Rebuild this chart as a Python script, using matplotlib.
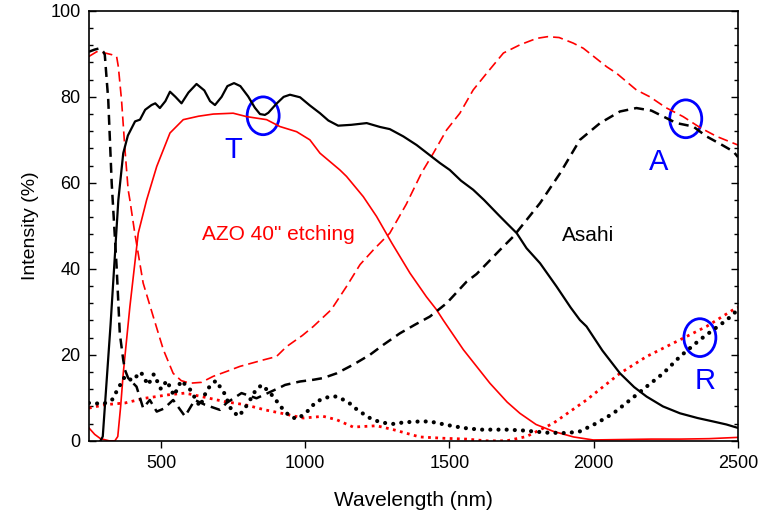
import numpy as np
import matplotlib.pyplot as plt
from matplotlib.patches import Ellipse
from matplotlib.ticker import MultipleLocator

plt.rcParams['font.family'] = ['Liberation Sans', 'DejaVu Sans']

# Asahi - transmission (black solid)
asahi_T_wl = [290, 298, 325, 352, 369, 385, 410, 427, 445, 467, 480, 496, 515, 531, 550, 571,
              595, 623, 650, 670, 687, 710, 730, 753, 775, 802, 825, 843, 860, 872, 900, 925,
              947, 982, 1016, 1051, 1080, 1114, 1160, 1213, 1259, 1293, 1340, 1386, 1440, 1467,
              1501, 1540, 1582, 1620, 1669, 1700, 1733, 1767, 1814, 1871, 1920, 1952, 1975,
              2030, 2091, 2140, 2183, 2240, 2299, 2360, 2414, 2460, 2500]
asahi_T = [0, 1, 27, 56, 66.9, 71, 74.3, 74.7, 77, 78.1, 78.5, 77.4, 79, 81.2, 80, 78.5,
           81, 83, 81.5, 79, 78.1, 80, 82.5, 83.2, 82.5, 80.1, 77.5, 76, 75.8, 76.3, 78.4, 80,
           80.5, 79.9, 78, 76.2, 74.5, 73.3, 73.5, 73.9, 73, 72.5, 70.8, 68.8, 66, 64.6,
           63, 60.5, 58.4, 56, 52.6, 50.5, 48.3, 44.8, 41.3, 35.9, 31, 28.1, 26.6,
           21, 15.7, 12.5, 10.3, 8, 6.4, 5.3, 4.5, 3.8, 3]

# Asahi - absorption (black dashed)
asahi_A_wl = [250, 270, 288, 300, 305, 317, 329, 346, 357, 369, 375, 386, 415, 438, 461, 485,
              510, 542, 583, 617, 652, 704, 727, 779, 831, 883, 918, 930, 982, 1028, 1062,
              1109, 1166, 1224, 1270, 1328, 1380, 1432, 1490, 1559, 1594, 1675, 1721, 1814,
              1883, 1952, 2022, 2091, 2148, 2200, 2230, 2287, 2345, 2391, 2440, 2484, 2500]
asahi_A = [90.5, 91, 91.3, 90.5, 89.8, 79.3, 59.9, 40.5, 25, 18.8, 16.5, 14.6, 12.6, 7.6, 9.5, 6.8,
           7.5, 9.5, 5.7, 9.5, 8.4, 7.2, 8.8, 11.1, 9.9, 11.5, 12.6, 13, 13.8, 14.2, 14.6,
           15.7, 17.7, 20, 22.3, 25, 27, 28.9, 32, 37, 38.8, 44.4, 47.5, 55.3,
           62.2, 70, 73.9, 76.6, 77.4, 76.8, 75.8, 73.9, 73.1, 70.8, 69, 67.3, 66]

# Asahi - reflection (black dotted)
asahi_R_wl = [250, 300, 330, 350, 375, 400, 430, 455, 475, 500, 520, 545, 570, 600, 635, 660,
              690, 720, 745, 770, 800, 830, 850, 880, 906, 924, 947, 970, 993, 1016, 1033,
              1057, 1086, 1109, 1137, 1161, 1180, 1224, 1253, 1280, 1311, 1340, 1397, 1432,
              1490, 1548, 1606, 1698, 1756, 1837, 1906, 1952, 2010, 2068, 2126, 2183, 2241,
              2299, 2368, 2414, 2461, 2500]
asahi_R = [8.8, 8.6, 9.5, 12, 15, 14, 16, 13, 15.5, 12, 14, 10.5, 14, 12, 8, 12,
           14, 11, 7, 5.7, 8.5, 12, 13, 11, 8.8, 7.2, 5.7, 5.1, 6, 7.4, 8.8,
           9.7, 10.3, 10.3, 9.4, 8.4, 7.2, 5.3, 4.5, 4.1, 3.9, 4.3, 4.5, 4.5,
           3.7, 3, 2.6, 2.6, 2.4, 1.9, 1.8, 2.2, 4.1, 6.4, 9.5, 12.6, 15.7,
           19.6, 23.5, 25.8, 28.1, 30.5]

# AZO 40" etching - transmission (red solid)
azo_T_wl = [250, 270, 290, 320, 340, 350, 360, 369, 392, 421, 450, 485, 531, 577, 630, 681,
            750, 797, 866, 912, 970, 1016, 1051, 1120, 1143, 1201, 1247, 1300, 1363, 1420,
            1455, 1478, 1548, 1640, 1700, 1744, 1800, 1860, 1930, 1998, 2100, 2200, 2300,
            2400, 2500]
azo_T = [3, 1.5, 0.5, 0, 0, 1, 8, 15.7, 31.2, 48.3, 56, 63.8, 71.6, 74.7, 75.5, 76,
         76.2, 75.4, 74.7, 73.1, 71.9, 70, 66.9, 63, 61.5, 56.8, 52.2, 46, 39, 33.5,
         30.5, 28.1, 21.2, 13.4, 9, 6.4, 3.8, 2.2, 0.9, 0.2, 0.3, 0.4, 0.4,
         0.5, 0.8]

# AZO 40" etching - absorption (red dashed)
azo_A_wl = [250, 277, 300, 330, 346, 352, 363, 375, 386, 392, 409, 438, 473, 508, 542, 570,
            600, 640, 681, 730, 773, 854, 900, 935, 990, 1028, 1090, 1143, 1190, 1236, 1293,
            1350, 1403, 1444, 1490, 1536, 1582, 1629, 1687, 1744, 1802, 1840, 1880, 1929,
            1964, 2045, 2079, 2148, 2195, 2250, 2310, 2370, 2426, 2500]
azo_A = [89.4, 90.5, 90.3, 89.8, 89.4, 87, 79.3, 67.7, 58.4, 56, 48.3, 36.7, 28.9, 21.2, 15.7, 14,
         13.4, 13.6, 15, 16.2, 17.3, 18.8, 19.6, 21.9, 24.5, 26.6, 30.5, 35.9, 41, 44.4, 48.3,
         55, 62.3, 66.9, 72.3, 76.2, 81.6, 85.5, 90.2, 92.1, 93.6, 94, 93.8, 92.5,
         91.3, 87, 85.5, 81.6, 80, 77.5, 75.4, 72.8, 70.8, 68.8]

# AZO 40" etching - reflection (red dotted)
azo_R_wl = [250, 305, 375, 444, 525, 583, 640, 722, 791, 860, 918, 993, 1062, 1109, 1166,
            1247, 1305, 1397, 1478, 1559, 1629, 1698, 1767, 1860, 1975, 2091, 2183, 2299,
            2391, 2484, 2500]
azo_R = [7.6, 8.4, 8.8, 9.9, 10.7, 11.1, 10.3, 9.1, 8.4, 7.2, 6.4, 5.3, 5.7, 4.9, 3.2,
         3.5, 2.6, 0.9, 0.6, 0.4, 0, 0, 1, 4.1, 9.5, 15.7, 19.6, 23.5,
         26.6, 30.5, 31]

# marked crossings (ellipses) and their labels
marks = [(854, 75.6), (2319, 74.9), (2368, 24.0)]
mark_labels = ['T', 'A', 'R']
mark_label_pos = [(750, 67.7), (2226, 64.9), (2386, 13.8)]

fig = plt.figure(figsize=(7.6, 5.18), dpi=100)
ax = fig.add_axes([0.117, 0.149, 0.854, 0.830])

ax.plot(azo_A_wl, azo_A, color='red', lw=1.2, linestyle=(0, (6, 3)))
ax.plot(azo_T_wl, azo_T, color='red', lw=1.2)
ax.plot(azo_R_wl, azo_R, color='red', lw=2.0, linestyle=(0, (1, 1.6)))
ax.plot(asahi_A_wl, asahi_A, color='black', lw=1.8, linestyle=(0, (4, 2.4)))
ax.plot(asahi_T_wl, asahi_T, color='black', lw=1.6)
ax.plot(asahi_R_wl, asahi_R, color='black', lw=3.0, linestyle=(0, (0.01, 1.95)),
        dash_capstyle='round')

for (cx, cy), lab, (tx, ty) in zip(marks, mark_labels, mark_label_pos):
    ax.add_patch(Ellipse((cx, cy), 111, 8.8, fill=False, edgecolor='#0000ff', lw=2))
    ax.text(tx, ty, lab, color='#0000ff', fontsize=21, ha='center', va='center')

ax.text(642, 47.9, 'AZO 40" etching', color='red', fontsize=15, ha='left', va='center')
ax.text(1889, 47.7, 'Asahi', color='black', fontsize=15, ha='left', va='center')

ax.set_xlim(250, 2500)
ax.set_ylim(0, 100)
ax.xaxis.set_major_locator(MultipleLocator(500))
ax.yaxis.set_major_locator(MultipleLocator(20))
ax.yaxis.set_minor_locator(MultipleLocator(4))
ax.tick_params(axis='x', direction='out', length=5, width=1, labelsize=13, pad=5)
ax.tick_params(axis='y', which='major', direction='in', length=5, width=1,
               right=True, labelsize=13, pad=6)
ax.tick_params(axis='y', which='minor', direction='in', length=3, width=1, right=True)
for s in ax.spines.values():
    s.set_linewidth(1.2)

ax.set_xlabel('Wavelength (nm)', fontsize=15, labelpad=14)
ax.set_ylabel('Intensity (%)', fontsize=14, labelpad=8)

fig.savefig('out.png', dpi=100)
